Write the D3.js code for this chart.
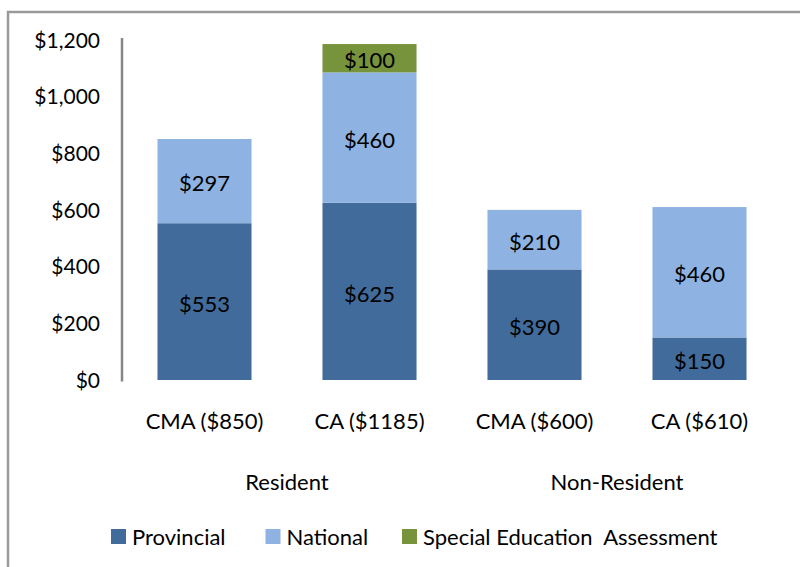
<!DOCTYPE html>
<html><head><meta charset="utf-8">
<script src="https://cdn.jsdelivr.net/npm/d3@7"></script>
<style>
html,body{margin:0;padding:0;background:#fff;}
svg{display:block;font-family:Lato, "Open Sans", sans-serif;}
</style></head>
<body>
<svg id="chart" width="800" height="567"></svg>
<script>
const categories = ["CMA ($850)", "CA ($1185)", "CMA ($600)", "CA ($610)"];
const groups = ["Resident", "Non-Resident"];
const seriesNames = ["Provincial", "National", "Special Education  Assessment"];
const provincial = [553, 625, 390, 150];
const national = [297, 460, 210, 460];
const specialEd = [0, 100, 0, 0];
const yTicks = [0, 200, 400, 600, 800, 1000, 1200];

const colors = ["#416b9b", "#8eb3e2", "#77933c"];
const svg = d3.select("#chart");
const FS = 22;
const FT = 21;

// outer border
svg.append("rect").attr("x", 8).attr("y", 12).attr("width", 900).attr("height", 700)
  .attr("fill", "none").attr("stroke", "#9a9a9a").attr("stroke-width", 2.5);

const x = d3.scaleBand().domain(categories).range([122, 782]).paddingInner(0.43).paddingOuter(0.215);
const y = d3.scaleLinear().domain([0, 1200]).range([380, 39.8]);

const rows = categories.map((c, i) => ({cat: c, s0: provincial[i], s1: national[i], s2: specialEd[i]}));
const stack = d3.stack().keys(["s0", "s1", "s2"])(rows);

stack.forEach((layer, si) => {
  const g = svg.append("g");
  layer.forEach(d => {
    const v = d[1] - d[0];
    if (v <= 0) return;
    g.append("rect")
      .attr("x", x(d.data.cat)).attr("width", x.bandwidth())
      .attr("y", y(d[1])).attr("height", y(d[0]) - y(d[1]))
      .attr("fill", colors[si]);
    g.append("text")
      .attr("x", x(d.data.cat) + x.bandwidth() / 2)
      .attr("y", (y(d[0]) + y(d[1])) / 2 + 2.5)
      .attr("dy", "0.35em")
      .attr("text-anchor", "middle")
      .attr("font-size", FS).attr("fill", "#000")
      .text("$" + v);
  });
});

// y axis
const yAxis = d3.axisLeft(y).tickValues(yTicks).tickSize(0).tickPadding(22)
  .tickFormat(d => "$" + d3.format(",")(d));
const ga = svg.append("g").attr("transform", "translate(122,0)").call(yAxis);
ga.select(".domain").remove();
ga.selectAll("text").attr("font-size", FT).attr("font-family", "Lato").attr("fill", "#000").attr("dy", "0.35em");
svg.append("line").attr("x1", 122).attr("x2", 122).attr("y1", 38).attr("y2", 381.5)
  .attr("stroke", "#868686").attr("stroke-width", 2.5);

// category labels
const xAxis = d3.axisBottom(x).tickSize(0).tickPadding(0);
const gx = svg.append("g").attr("transform", "translate(0,421)").call(xAxis);
gx.select(".domain").remove();
gx.selectAll("text").attr("font-size", FS).attr("font-family", "Lato").attr("fill", "#000").attr("dy", "0.35em");

// group labels
groups.forEach((gname, gi) => {
  const c1 = x(categories[gi * 2]) + x.bandwidth() / 2;
  const c2 = x(categories[gi * 2 + 1]) + x.bandwidth() / 2;
  svg.append("text").attr("x", (c1 + c2) / 2).attr("y", 482).attr("dy", "0.35em")
    .attr("text-anchor", "middle").attr("font-size", FS).text(gname);
});

// legend
const legendX = [111, 265.5, 402];
seriesNames.forEach((n, i) => {
  svg.append("rect").attr("x", legendX[i]).attr("y", 529).attr("width", 15).attr("height", 15).attr("fill", colors[i]);
  svg.append("text").attr("x", legendX[i] + 21).attr("y", 537).attr("dy", "0.35em")
    .attr("font-size", FS).text(n).style("white-space", "pre").attr("xml:space", "preserve");
});
</script>
</body></html>
